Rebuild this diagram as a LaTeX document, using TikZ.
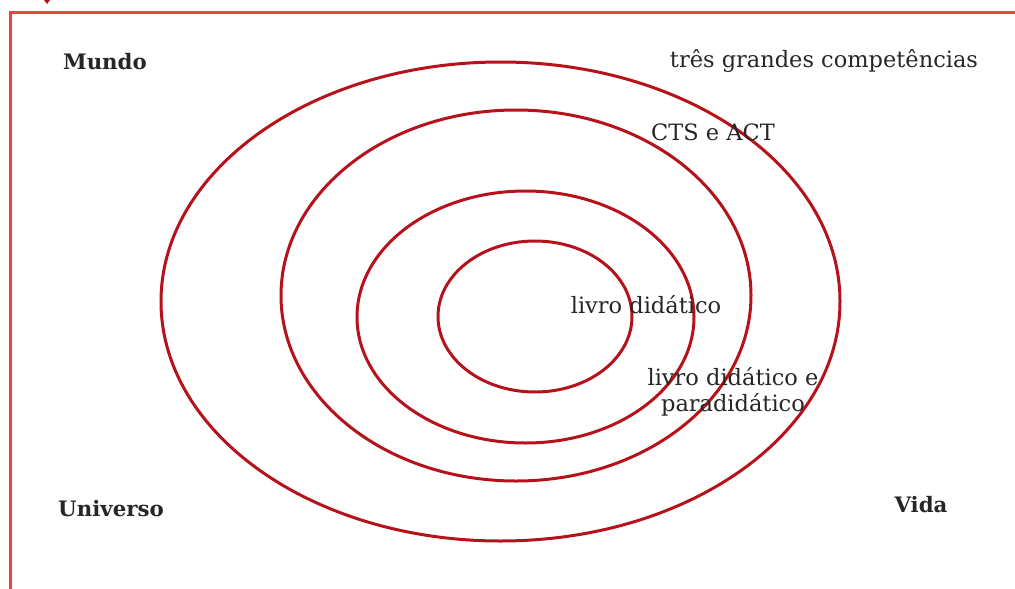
\documentclass[tikz,border=0pt]{standalone}
\usepackage{fontspec}
\setmainfont{DejaVu Serif}
\usetikzlibrary{shapes.geometric}
\definecolor{ringred}{HTML}{B5121B}
\definecolor{framered}{HTML}{E8453C}
\tikzset{
  ring/.style={ellipse, draw=ringred, line width=3pt, inner sep=0pt, fill=none},
  lbl/.style={font=\fontsize{22.5}{26}\selectfont, text=black!85, inner sep=0pt, align=center},
  blbl/.style={font=\fontsize{21.3}{25}\selectfont\bfseries, text=black!85, inner sep=0pt},
  frame/.style={draw=framered, line width=3pt}
}
\begin{document}
\begin{tikzpicture}[x=1pt,y=-1pt]
\useasboundingbox (0,0) rectangle (1015,589);
\coordinate (fa) at (10,589);
\coordinate (fb) at (10,12);
\coordinate (fc) at (1015,12);
\draw[frame] (fa) -- (fb) -- (fc);
\fill[ringred] (44,0) -- (50,0) -- (47,4) -- cycle;
\node[ring, minimum width=679pt, minimum height=479pt] (e1) at (500.5,301.5) {};
\node[ring, minimum width=470pt, minimum height=371pt] (e2) at (516,295.5) {};
\node[ring, minimum width=337pt, minimum height=252pt] (e3) at (525.5,317) {};
\node[ring, minimum width=194pt, minimum height=151pt] (e4) at (535,316.5) {};
\node[blbl] (mundo) at (105,62) {Mundo};
\node[blbl] (universo) at (111,509) {Universo};
\node[blbl] (vida) at (921,505) {Vida};
\node[lbl] (tres) at (824,61) {três grandes competências};
\node[lbl] (cts) at (713,132) {CTS e ACT};
\node[lbl] (livro) at (646,305) {livro didático};
\node[lbl] (para) at (733,392) {livro didático e\\paradidático};
\end{tikzpicture}
\end{document}
